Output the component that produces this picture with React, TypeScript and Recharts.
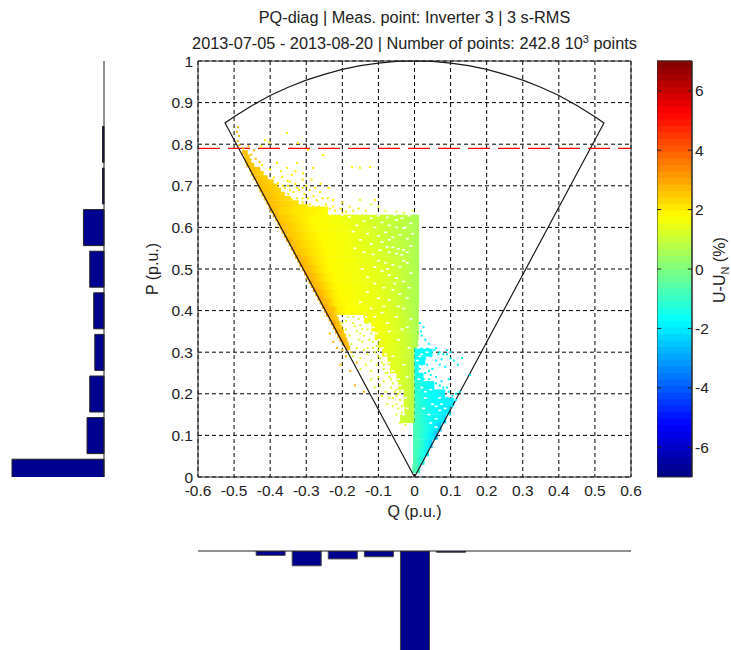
import { Bar, BarChart, CartesianGrid, ComposedChart, Line, ReferenceArea, ReferenceLine, Scatter, XAxis, YAxis } from 'recharts'

const FONT = '"Liberation Sans", Arial, sans-serif'
const INK = '#222'

const qTicks = [-0.6, -0.5, -0.4, -0.3, -0.2, -0.1, 0, 0.1, 0.2, 0.3, 0.4, 0.5, 0.6]
const pTicks = [0, 0.1, 0.2, 0.3, 0.4, 0.5, 0.6, 0.7, 0.8, 0.9, 1]
const uTicks = [-6, -4, -2, 0, 2, 4, 6]

// histograms, share of points per bin (%)
const pBins = [0, 0.1, 0.2, 0.3, 0.4, 0.5, 0.6, 0.7, 0.8, 0.9, 1]
const pShare = [51, 9.4, 7.9, 5.1, 5.7, 7.9, 11.4, 0.8, 0.8, 0, 0]
const qBins = [-0.6, -0.5, -0.4, -0.3, -0.2, -0.1, 0, 0.1, 0.2, 0.3, 0.4, 0.5, 0.6]
const qShare = [0, 0, 2.4, 8.2, 4.4, 3.2, 81, 0.7, 0, 0, 0, 0, 0]

// operating limit: power factor wedge and the unit circle
const limitQ = [0, -0.525, -0.5, -0.45, -0.4, -0.35, -0.3, -0.25, -0.2, -0.15, -0.1, -0.05, 0, 0.05, 0.1, 0.15, 0.2, 0.25, 0.3, 0.35, 0.4, 0.45, 0.5, 0.525, 0]
const limitP = [0, 0.851, 0.866, 0.893, 0.917, 0.937, 0.954, 0.968, 0.98, 0.989, 0.995, 0.999, 1, 0.999, 0.995, 0.989, 0.98, 0.968, 0.954, 0.937, 0.917, 0.893, 0.866, 0.851, 0]
const ratedP = 0.79

// dense part of the cloud read row by row: [P, q, U, q, U, ...]
const cloudRows: number[][] = [
  [0.64, -0.377, 2.4, -0.33, 2.1, -0.28, 1.9, -0.24, 1.7],
  [0.62, -0.365, 2.5, -0.32, 2.1, -0.28, 1.8, -0.22, 1.6, -0.14, 1.3, -0.08, 1, -0.02, 0.8, 0.013, 0.55],
  [0.6, -0.352, 2.5, -0.31, 2.1, -0.27, 1.8, -0.2, 1.6, -0.13, 1.3, -0.07, 1, -0.02, 0.8, 0.013, 0.55],
  [0.58, -0.34, 2.5, -0.3, 2.1, -0.26, 1.8, -0.19, 1.6, -0.125, 1.3, -0.07, 1, -0.02, 0.8, 0.013, 0.55],
  [0.56, -0.328, 2.5, -0.29, 2.1, -0.25, 1.8, -0.185, 1.6, -0.12, 1.3, -0.07, 1, -0.02, 0.8, 0.013, 0.55],
  [0.54, -0.315, 2.5, -0.28, 2.1, -0.245, 1.8, -0.18, 1.6, -0.115, 1.35, -0.065, 1.05, -0.02, 0.8, 0.013, 0.55],
  [0.52, -0.303, 2.6, -0.27, 2.1, -0.24, 1.8, -0.175, 1.6, -0.11, 1.35, -0.06, 1.1, -0.02, 0.85, 0.013, 0.55],
  [0.5, -0.291, 2.6, -0.26, 2.1, -0.235, 1.8, -0.17, 1.6, -0.105, 1.4, -0.055, 1.1, -0.02, 0.85, 0.013, 0.55],
  [0.48, -0.278, 2.6, -0.25, 2.1, -0.225, 1.8, -0.165, 1.6, -0.1, 1.4, -0.05, 1.1, -0.02, 0.85, 0.013, 0.55],
  [0.46, -0.266, 2.6, -0.24, 2.1, -0.215, 1.8, -0.16, 1.6, -0.095, 1.4, -0.05, 1.1, -0.02, 0.85, 0.013, 0.55],
  [0.44, -0.254, 2.6, -0.23, 2.1, -0.205, 1.8, -0.155, 1.6, -0.09, 1.4, -0.05, 1.1, -0.02, 0.85, 0.013, 0.55],
  [0.42, -0.241, 2.6, -0.22, 2, -0.195, 1.8, -0.15, 1.6, -0.085, 1.4, -0.045, 1.1, -0.02, 0.85, 0.013, 0.55],
  [0.4, -0.229, 2.7, -0.21, 2, -0.185, 1.75, -0.14, 1.6, -0.08, 1.4, -0.04, 1.1, -0.015, 0.85, 0.012, 0.55],
  [0.38, -0.14, 1.7, -0.09, 1.5, -0.05, 1.25, -0.02, 0.95, 0.012, 0.55],
  [0.36, -0.12, 1.7, -0.08, 1.5, -0.05, 1.25, -0.02, 0.95, 0.012, 0.55],
  [0.34, -0.11, 1.6, -0.07, 1.45, -0.04, 1.2, -0.015, 0.95, 0.012, 0.55],
  [0.32, -0.1, 1.55, -0.06, 1.4, -0.03, 1.15, -0.01, 0.9, 0.01, 0.55],
  [0.3, -0.09, 1.5, -0.05, 1.3, -0.02, 1.05, 0, 0.7],
  [0.28, -0.075, 1.4, -0.04, 1.25, -0.015, 1, 0, 0.7],
  [0.26, -0.068, 1.4, -0.04, 1.25, -0.015, 1, 0, 0.7],
  [0.24, -0.05, 1.3, -0.03, 1.15, -0.01, 0.95, 0, 0.7],
  [0.22, -0.045, 1.3, -0.03, 1.15, -0.01, 0.95, 0, 0.7],
  [0.2, -0.03, 1.2, -0.015, 1, 0, 0.75],
  [0.18, -0.03, 1.2, -0.015, 1, 0, 0.75],
  [0.16, -0.028, 1.15, -0.01, 0.95, 0, 0.75],
  [0.14, -0.04, 1.1, -0.01, 0.95, 0, 0.75],
  [0.3, 0, -1.6, 0.05, -1.8],
  [0.28, 0, -1.6, 0.03, -1.8],
  [0.26, 0, -1.4, 0.012, -1.5],
  [0.24, 0, -1.3, 0.025, -1.7],
  [0.22, 0, -1.1, 0.02, -1.4, 0.055, -1.8],
  [0.2, 0, -1, 0.02, -1.4, 0.05, -1.7, 0.085, -1.9],
  [0.18, 0, -0.9, 0.02, -1.3, 0.05, -1.7, 0.09, -1.9, 0.11, -2],
  [0.16, 0, -0.9, 0.02, -1.2, 0.045, -1.6, 0.075, -1.9, 0.1, -2.1],
  [0.14, 0, -0.8, 0.015, -1.1, 0.04, -1.5, 0.07, -1.9, 0.088, -2.3],
  [0.12, -0.004, -0.7, 0.015, -1, 0.035, -1.4, 0.055, -1.9, 0.075, -2.6],
  [0.1, -0.004, -0.7, 0.015, -1, 0.03, -1.4, 0.05, -2, 0.064, -2.9],
  [0.08, -0.004, -0.7, 0.012, -0.9, 0.025, -1.3, 0.04, -1.9, 0.05, -2.6],
  [0.06, -0.004, -0.7, 0.012, -1, 0.025, -1.4, 0.04, -2],
  [0.04, -0.004, -0.6, 0.01, -1, 0.028, -1.5],
  [0.02, -0.006, -0.6, 0.016, -1],
]

// thin strip along the wedge's left side, finer rows
const edgeRows: number[][] = [
  [0.78, -0.478, 2.6, -0.462, 2.5], [0.77, -0.472, 2.6, -0.456, 2.5], [0.76, -0.47, 2.7, -0.452, 2.5], [0.75, -0.466, 2.7, -0.444, 2.4],
  [0.74, -0.458, 2.7, -0.428, 2.4], [0.73, -0.454, 2.7, -0.418, 2.3], [0.72, -0.448, 2.7, -0.408, 2.3], [0.71, -0.44, 2.7, -0.39, 2.3],
  [0.7, -0.434, 2.7, -0.379, 2.3], [0.69, -0.43, 2.7, -0.37, 2.3], [0.68, -0.424, 2.7, -0.359, 2.2], [0.67, -0.418, 2.7, -0.343, 2.2],
  [0.66, -0.411, 2.7, -0.321, 2.1], [0.65, -0.405, 2.7, -0.295, 2],
  [0.64, -0.399, 2.7, -0.36, 2.4], [0.63, -0.393, 2.8, -0.36, 2.4], [0.62, -0.386, 2.6, -0.355, 2.4], [0.61, -0.38, 2.8, -0.345, 2.4],
  [0.6, -0.374, 2.7, -0.34, 2.4], [0.59, -0.368, 2.9, -0.335, 2.4], [0.58, -0.362, 2.7, -0.33, 2.4], [0.57, -0.356, 2.9, -0.32, 2.4],
  [0.56, -0.349, 2.7, -0.315, 2.4], [0.55, -0.343, 2.9, -0.31, 2.4], [0.54, -0.337, 2.7, -0.305, 2.4], [0.53, -0.331, 3, -0.295, 2.5],
  [0.52, -0.325, 2.8, -0.29, 2.5], [0.51, -0.319, 3, -0.285, 2.5], [0.5, -0.312, 2.8, -0.28, 2.5], [0.49, -0.306, 3, -0.27, 2.5],
  [0.48, -0.3, 2.8, -0.265, 2.5], [0.47, -0.294, 3, -0.26, 2.5], [0.46, -0.288, 2.8, -0.255, 2.5], [0.45, -0.282, 3.1, -0.245, 2.5],
  [0.44, -0.275, 2.8, -0.24, 2.5], [0.43, -0.269, 3.1, -0.235, 2.5], [0.42, -0.263, 2.8, -0.23, 2.5], [0.41, -0.257, 3.1, -0.225, 2.5],
  [0.4, -0.251, 2.9, -0.22, 2.5], [0.39, -0.245, 3.1, -0.215, 2.4], [0.38, -0.238, 2.9, -0.21, 2.3], [0.37, -0.232, 3.2, -0.205, 2.4],
  [0.36, -0.226, 3, -0.2, 2.3], [0.35, -0.22, 3.2, -0.195, 2.4], [0.34, -0.214, 3, -0.19, 2.3], [0.33, -0.208, 3.2, -0.186, 2.5],
  [0.32, -0.2, 3, -0.182, 2.5], [0.31, -0.192, 2.8, -0.178, 2.5],
]

// single points around the dense part, [Q, P]
const amberDots = [
  [-0.489, 0.841], [-0.492, 0.83], [-0.486, 0.82], [-0.49, 0.808], [-0.485, 0.798], [-0.475, 0.79], [-0.46, 0.795], [-0.445, 0.785],
  [-0.452, 0.775], [-0.44, 0.765], [-0.43, 0.757], [-0.215, 0.31], [-0.19, 0.29], [-0.205, 0.27], [-0.178, 0.255], [-0.165, 0.22],
  [-0.225, 0.325], [-0.2, 0.305], [-0.14, 0.205], [-0.235, 0.345], [-0.175, 0.3], [-0.16, 0.275], [-0.43, 0.74], [-0.41, 0.72],
]
const yellowDots = [
  [-0.414, 0.81], [-0.402, 0.805], [-0.425, 0.795], [-0.353, 0.827], [-0.323, 0.803], [-0.295, 0.786], [-0.253, 0.774], [-0.423, 0.75],
  [-0.381, 0.755], [-0.353, 0.743], [-0.326, 0.755], [-0.281, 0.743], [-0.367, 0.721], [-0.34, 0.726], [-0.309, 0.73], [-0.173, 0.745],
  [-0.151, 0.743], [-0.123, 0.745], [-0.378, 0.707], [-0.352, 0.712], [-0.33, 0.705], [-0.3, 0.7], [-0.262, 0.685], [-0.226, 0.666],
  [-0.2, 0.66], [-0.151, 0.666], [-0.109, 0.666], [-0.36, 0.695], [-0.345, 0.69], [-0.335, 0.685], [-0.32, 0.69], [-0.305, 0.68],
  [-0.295, 0.67], [-0.28, 0.675], [-0.27, 0.665], [-0.29, 0.655], [-0.31, 0.66], [-0.3, 0.645], [-0.265, 0.65], [-0.245, 0.655],
  [-0.235, 0.645], [-0.22, 0.64], [-0.205, 0.645], [-0.19, 0.638], [-0.17, 0.64], [-0.35, 0.7], [-0.34, 0.668], [-0.325, 0.67],
  [-0.26, 0.705], [-0.238, 0.695], [-0.285, 0.715], [-0.31, 0.715], [-0.33, 0.735], [-0.37, 0.735], [-0.4, 0.74], [-0.39, 0.72],
  [-0.345, 0.71], [-0.365, 0.7], [-0.325, 0.695], [-0.31, 0.695], [-0.29, 0.69], [-0.275, 0.695], [-0.255, 0.67], [-0.24, 0.67],
  [-0.225, 0.65], [-0.2, 0.635], [-0.18, 0.65], [-0.155, 0.645], [-0.135, 0.64], [-0.31, 0.67], [-0.35, 0.68], [-0.28, 0.65],
]
const limeDots = [
  [-0.12, 0.655], [-0.1, 0.65], [-0.08, 0.64], [-0.05, 0.638], [-0.03, 0.635], [-0.005, 0.64], [-0.2, 0.37], [-0.19, 0.355],
  [-0.18, 0.34], [-0.17, 0.37], [-0.16, 0.35], [-0.15, 0.365], [-0.14, 0.34], [-0.13, 0.355], [-0.175, 0.32], [-0.16, 0.31],
  [-0.145, 0.325], [-0.13, 0.31], [-0.115, 0.325], [-0.17, 0.29], [-0.15, 0.285], [-0.13, 0.295], [-0.11, 0.3], [-0.095, 0.285],
  [-0.15, 0.26], [-0.135, 0.27], [-0.12, 0.255], [-0.105, 0.27], [-0.085, 0.26], [-0.12, 0.235], [-0.1, 0.24], [-0.085, 0.23],
  [-0.07, 0.24], [-0.11, 0.215], [-0.095, 0.22], [-0.08, 0.205], [-0.065, 0.215], [-0.05, 0.21], [-0.09, 0.195], [-0.07, 0.19],
  [-0.05, 0.195], [-0.04, 0.185], [-0.075, 0.175], [-0.06, 0.17], [-0.045, 0.165], [-0.035, 0.155], [-0.05, 0.15], [-0.04, 0.13],
  [-0.025, 0.125], [-0.19, 0.375], [-0.165, 0.362], [-0.15, 0.345], [-0.125, 0.375], [-0.155, 0.33], [-0.12, 0.345], [-0.14, 0.305],
  [-0.12, 0.28], [-0.1, 0.305], [-0.09, 0.275], [-0.075, 0.25], [-0.06, 0.225], [-0.045, 0.2], [-0.06, 0.19], [-0.035, 0.17],
  [-0.185, 0.385], [-0.17, 0.385], [-0.155, 0.38], [-0.14, 0.385], [-0.13, 0.37], [-0.145, 0.355], [-0.125, 0.33], [-0.105, 0.315],
  [-0.115, 0.31], [-0.1, 0.29], [-0.085, 0.27], [-0.08, 0.25], [-0.065, 0.235], [-0.055, 0.205], [-0.04, 0.205], [-0.05, 0.175],
]
const cyanDots = [
  [0.015, 0.37], [0.018, 0.35], [0.02, 0.34], [0.025, 0.36], [0.03, 0.33], [0.04, 0.32], [0.06, 0.31], [0.055, 0.305],
  [0.07, 0.3], [0.08, 0.295], [0.09, 0.295], [0.1, 0.285], [0.11, 0.28], [0.12, 0.27], [0.132, 0.286], [0.06, 0.28],
  [0.045, 0.29], [0.035, 0.27], [0.05, 0.26], [0.07, 0.27], [0.085, 0.265], [0.03, 0.25], [0.04, 0.235], [0.06, 0.24],
  [0.075, 0.23], [0.095, 0.235], [0.02, 0.245], [0.05, 0.215], [0.065, 0.205], [0.08, 0.215], [0.095, 0.205], [0.105, 0.195],
  [0.115, 0.2], [0.125, 0.205], [0.154, 0.245], [0.066, 0.295], [0.09, 0.305], [0.1, 0.3], [0.075, 0.283], [0.042, 0.305],
  [0.02, 0.27], [0.03, 0.285], [0.015, 0.26], [0.04, 0.255], [0.025, 0.235], [0.035, 0.22], [0.07, 0.22], [0.09, 0.19],
  [0.1, 0.18], [0.115, 0.185], [0.105, 0.17], [0.098, 0.15], [0.08, 0.2], [0.09, 0.215], [0.06, 0.225], [0.045, 0.245],
]
const cloudGaps = [
  [-0.076, 0.553], [-0.06, 0.552], [-0.045, 0.548], [-0.03, 0.546], [-0.02, 0.54], [-0.07, 0.54], [-0.05, 0.537], [-0.035, 0.534],
  [-0.11, 0.6], [-0.09, 0.612], [-0.07, 0.605], [-0.05, 0.618], [-0.03, 0.598], [-0.01, 0.61], [-0.13, 0.585], [-0.1, 0.58],
  [-0.08, 0.588], [-0.06, 0.576], [-0.04, 0.582], [-0.02, 0.573], [-0.15, 0.57], [-0.12, 0.56], [-0.09, 0.565], [-0.01, 0.555],
  [-0.1, 0.52], [-0.08, 0.515], [-0.06, 0.51], [-0.04, 0.505], [-0.02, 0.515], [-0.01, 0.49], [-0.09, 0.495], [-0.07, 0.485],
  [-0.05, 0.478], [-0.03, 0.47], [-0.11, 0.465], [-0.085, 0.455], [-0.06, 0.45], [-0.04, 0.44], [-0.015, 0.455], [-0.13, 0.445],
  [-0.1, 0.43], [-0.07, 0.425], [-0.15, 0.42], [-0.12, 0.405], [-0.09, 0.395], [-0.05, 0.385], [-0.03, 0.405], [-0.02, 0.36],
  [-0.07, 0.35], [-0.045, 0.33], [-0.015, 0.31], [-0.06, 0.29], [-0.03, 0.27], [-0.02, 0.24], [0.03, 0.19], [0.05, 0.175],
  [0.07, 0.19], [0.04, 0.15], [0.06, 0.14], [0.025, 0.165], [0.07, 0.16], [0.008, 0.28], [0.02, 0.295], [0.035, 0.3],
  [-0.12, 0.622], [-0.1, 0.628], [-0.075, 0.624], [-0.055, 0.63], [-0.035, 0.622], [-0.015, 0.628], [-0.14, 0.615], [-0.16, 0.605],
  [-0.18, 0.625], [-0.2, 0.63], [-0.17, 0.59], [-0.14, 0.54], [-0.115, 0.535], [-0.095, 0.545], [-0.11, 0.505], [-0.13, 0.48],
  [-0.145, 0.5], [-0.165, 0.55], [-0.025, 0.6], [-0.005, 0.585], [-0.05, 0.6], [-0.07, 0.57], [-0.03, 0.52], [-0.075, 0.5],
  [-0.055, 0.465], [-0.02, 0.43], [-0.045, 0.41], [-0.085, 0.41], [-0.11, 0.385], [-0.075, 0.37], [-0.035, 0.355], [-0.01, 0.38],
  [-0.135, 0.385], [-0.128, 0.37], [-0.115, 0.36], [-0.105, 0.345], [-0.098, 0.33], [-0.09, 0.31], [-0.08, 0.295], [-0.07, 0.275],
  [-0.06, 0.255], [-0.045, 0.235], [-0.04, 0.22], [-0.025, 0.19], [-0.02, 0.165], [-0.03, 0.15], [0.015, 0.29], [0.04, 0.285],
  [0.01, 0.31], [0.028, 0.31], [0.045, 0.31], [0.012, 0.235], [0.02, 0.215], [0.045, 0.21], [0.03, 0.205], [0.075, 0.175],
  [0.085, 0.165], [0.06, 0.17], [0.045, 0.13], [0.06, 0.12],
]

// jet colour map of the colour bar, U range -7..7 in 64 steps
const U_MIN = -7
const U_MAX = 7
const LEVELS = 64
const clamp01 = (v: number) => Math.max(0, Math.min(1, v))
const jetAt = (t: number) => {
  const ch = (c: number) => Math.round(clamp01(1.5 - Math.abs(4 * t - c)) * 255)
  return `rgb(${ch(3)},${ch(2)},${ch(1)})`
}
const jet = (u: number) => jetAt(clamp01((u - U_MIN) / (U_MAX - U_MIN)))
const barLevels = Array.from({ length: LEVELS }, (_, i) => i)
const barRange = [{ x: 0, y: U_MIN }, { x: 1, y: U_MAX }]

const toSpan = (row: number[], i: number, half: number, tag: string) => {
  const stops = []
  for (let k = 1; k + 1 < row.length; k += 2) stops.push({ q: row[k], u: row[k + 1] })
  return { id: `${tag}${i}`, p: row[0], half, q0: stops[0].q, q1: stops[stops.length - 1].q, stops }
}
const edgeSpans = edgeRows.map((r, i) => toSpan(r, i, 0.0055, 'edge'))
const rowSpans = cloudRows.map((r, i) => toSpan(r, i, 0.0105, 'row'))
const cloudSpans = [...edgeSpans, ...rowSpans]

const toPoints = (dots: number[][]) => dots.map(([q, p]) => ({ q, p }))
const limitData = limitQ.map((q, i) => ({ q, p: limitP[i] }))
const pHist = pBins.map((bin, i) => ({ bin, share: pShare[i] }))
const qHist = qBins.map((bin, i) => ({ bin, share: qShare[i] }))

const dot = (fill: string, w = 2, h = 2) => (props: any) =>
  <rect x={props.cx - w / 2} y={props.cy - h / 2} width={w} height={h} fill={fill} />
const noDot = () => <g />

const tickStyle = { fontSize: 15.5, fill: INK, fontFamily: FONT }
const labelStyle = { fontSize: 16, fill: INK, fontFamily: FONT }

function ColorLabel(props: any) {
  const x = props.viewBox.x + 33
  const y = props.viewBox.y + 242
  return (
    <text transform={`rotate(-90 ${x} ${y})`} x={x} y={y} style={labelStyle}>
      <tspan>U-U</tspan>
      <tspan dy={4} fontSize={11}>N</tspan>
      <tspan dy={-4}> (%)</tspan>
    </text>
  )
}

export default function App() {
  return (
    <div style={{ position: 'absolute', left: 0, top: 0, width: 731, height: 650, overflow: 'hidden', background: '#fff', fontFamily: FONT }}>
      <div style={{ position: 'absolute', left: 198, top: 8, width: 433, textAlign: 'center', fontSize: 16.3, lineHeight: '18px', color: INK, whiteSpace: 'nowrap' }}>
        PQ-diag | Meas. point: Inverter 3 | 3 s-RMS
      </div>
      <div style={{ position: 'absolute', left: 148, top: 34, width: 533, textAlign: 'center', fontSize: 16.3, lineHeight: '18px', color: INK, whiteSpace: 'nowrap' }}>
        2013-07-05 - 2013-08-20 | Number of points: 242.8 10<sup style={{ fontSize: 11, lineHeight: 0 }}>3</sup> points
      </div>

      <div style={{ position: 'absolute', left: 0, top: 61 }}>
        <BarChart width={110} height={416} data={pHist} layout="vertical" margin={{ top: 0, right: 5, bottom: 0, left: 12 }}>
          <XAxis type="number" hide reversed domain={[0, 51]} />
          <YAxis type="number" dataKey="bin" orientation="right" width={1} reversed domain={[0, 1]} allowDataOverflow tick={false} tickLine={false} stroke="#222" />
          <Bar dataKey="share" fill="#00008f" stroke="#222" barSize={36} isAnimationActive={false} />
        </BarChart>
      </div>

      <div style={{ position: 'absolute', left: 198, top: 550 }}>
        <BarChart width={433} height={100} data={qHist} margin={{ top: 0, right: 0, bottom: 0, left: 0 }}>
          <XAxis type="number" dataKey="bin" orientation="top" height={1} domain={[-0.6, 0.6]} ticks={qTicks} allowDataOverflow tick={false} tickLine={false} stroke="#222" />
          <YAxis type="number" hide reversed domain={[0, 55]} allowDataOverflow />
          <Bar dataKey="share" fill="#00008f" stroke="#444" barSize={29} isAnimationActive={false} />
        </BarChart>
      </div>

      <div style={{ position: 'absolute', left: 0, top: 0 }}>
        <ComposedChart width={731} height={530} margin={{ top: 61, right: 100, bottom: 23, left: 148 }}>
          <defs>
            {cloudSpans.map(s => (
              <linearGradient key={s.id} id={s.id} x1="0" y1="0" x2="1" y2="0">
                {s.stops.map(st => <stop key={st.q} offset={(st.q - s.q0) / (s.q1 - s.q0)} stopColor={jet(st.u)} />)}
              </linearGradient>
            ))}
          </defs>
          <CartesianGrid stroke="#000" strokeDasharray="4 3" />
          <XAxis type="number" dataKey="q" domain={[-0.6, 0.6]} ticks={qTicks} interval={0} tickSize={0} tickMargin={8} height={30} tick={tickStyle} stroke="#222"
            label={{ value: 'Q (p.u.)', position: 'insideBottom', offset: -10, style: labelStyle }} />
          <YAxis type="number" dataKey="p" domain={[0, 1]} ticks={pTicks} interval={0} tickSize={0} tickMargin={5} width={50} tick={tickStyle} stroke="#222"
            label={{ value: 'P (p.u.)', angle: -90, position: 'insideLeft', offset: 4, style: { ...labelStyle, textAnchor: 'middle' } }} />
          {cloudSpans.map(s => (
            <ReferenceArea key={s.id} x1={s.q0} x2={s.q1} y1={s.p - s.half} y2={s.p + s.half} fill={`url(#${s.id})`} fillOpacity={1} stroke="none" ifOverflow="visible" />
          ))}
          <Scatter data={toPoints(cloudGaps)} dataKey="p" shape={dot('#fff', 3, 1.6)} isAnimationActive={false} />
          <Scatter data={toPoints(amberDots)} dataKey="p" shape={dot(jet(2.7))} isAnimationActive={false} />
          <Scatter data={toPoints(yellowDots)} dataKey="p" shape={dot(jet(2))} isAnimationActive={false} />
          <Scatter data={toPoints(limeDots)} dataKey="p" shape={dot(jet(1.2))} isAnimationActive={false} />
          <Scatter data={toPoints(cyanDots)} dataKey="p" shape={dot(jet(-1.9))} isAnimationActive={false} />
          <Line data={limitData} dataKey="p" type="linear" stroke="#1a1a1a" strokeWidth={1.2} dot={false} activeDot={false} isAnimationActive={false} />
          <ReferenceLine y={ratedP} stroke="#f00" strokeWidth={1.2} strokeDasharray="22 8" />
          <ReferenceLine y={1} stroke="#222" />
          <ReferenceLine x={0.6} stroke="#222" />
        </ComposedChart>
      </div>

      <div style={{ position: 'absolute', left: 657, top: 0 }}>
        <ComposedChart width={74} height={490} margin={{ top: 61, right: 4, bottom: 13, left: 0 }}>
          <XAxis type="number" dataKey="x" hide domain={[0, 1]} />
          <YAxis type="number" dataKey="y" orientation="right" domain={[U_MIN, U_MAX]} ticks={uTicks} interval={0} tickSize={0} tickMargin={3} width={35} tick={tickStyle} stroke="#222" label={<ColorLabel />} />
          <Scatter data={barRange} dataKey="y" shape={noDot} isAnimationActive={false} />
          {barLevels.map(i => {
            const step = (U_MAX - U_MIN) / LEVELS
            return <ReferenceArea key={i} x1={0} x2={1} y1={U_MIN + i * step} y2={U_MIN + (i + 1) * step + 0.02} fill={jetAt((i + 0.5) / LEVELS)} fillOpacity={1} stroke="none" ifOverflow="visible" />
          })}
          <ReferenceArea x1={0} x2={1} y1={U_MIN} y2={U_MAX} fill="none" stroke="#333" ifOverflow="visible" />
          {uTicks.map(u => <ReferenceLine key={`l${u}`} segment={[{ x: 0, y: u }, { x: 0.12, y: u }]} stroke="#222" />)}
          {uTicks.map(u => <ReferenceLine key={`r${u}`} segment={[{ x: 0.88, y: u }, { x: 1, y: u }]} stroke="#222" />)}
        </ComposedChart>
      </div>
    </div>
  )
}
